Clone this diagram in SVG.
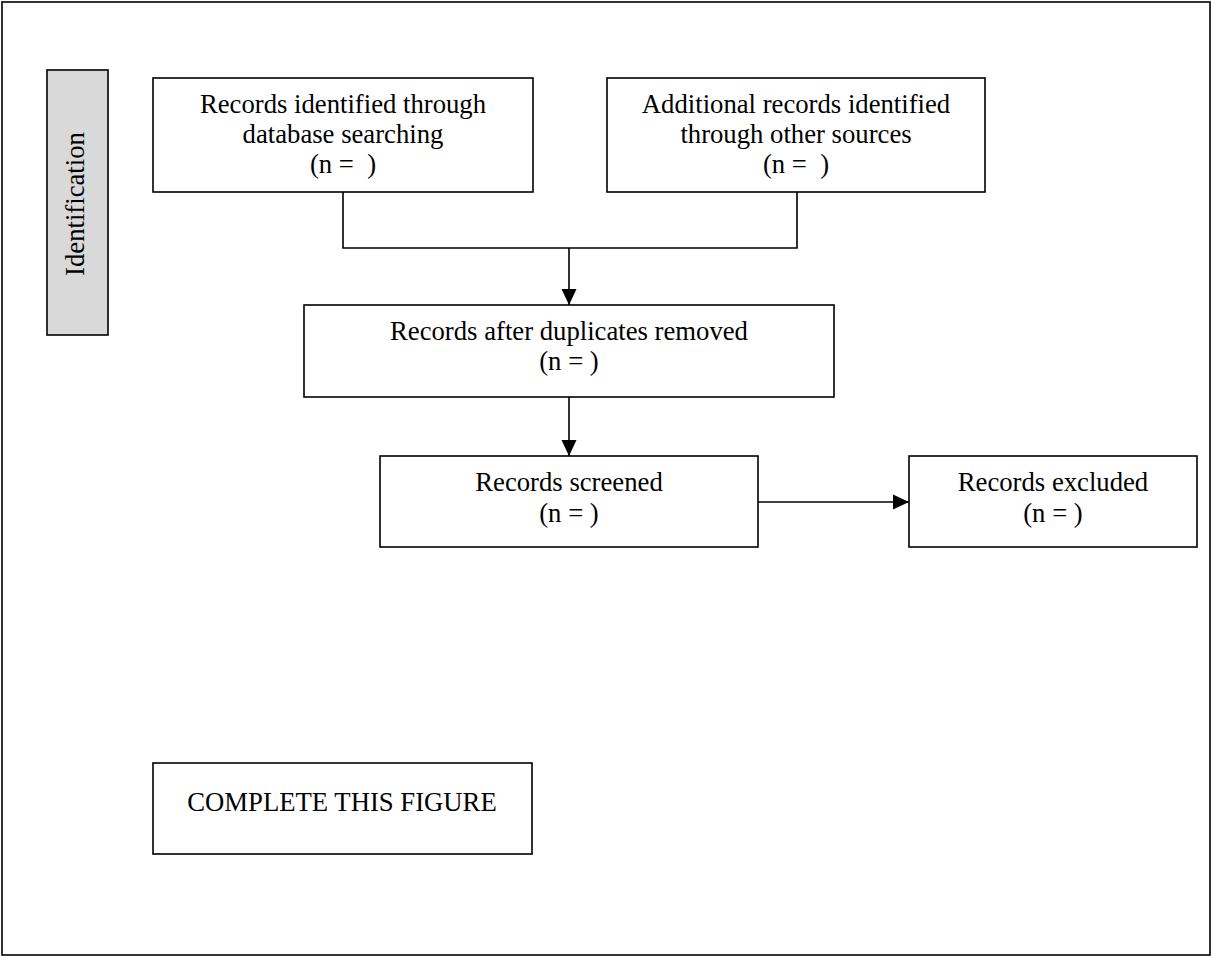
<svg xmlns="http://www.w3.org/2000/svg" width="1213" height="958" viewBox="0 0 1213 958">
<style>
.box{fill:#fff;stroke:#000;stroke-width:1.6}
.side{fill:#d9d9d9;stroke:#000;stroke-width:1.6}
.frame{fill:#fff;stroke:#000;stroke-width:1.6}
.t{font-family:"Liberation Serif","Times New Roman",serif;font-size:26.7px;fill:#000;text-anchor:middle}
.c{fill:none;stroke:#000;stroke-width:1.6}
</style>
<defs>
<marker id="arr" markerUnits="userSpaceOnUse" markerWidth="16" markerHeight="16" viewBox="0 0 16 16" refX="16" refY="8" orient="auto">
<path d="M0,0.5 L16,8 L0,15.5 Z" fill="#000"/>
</marker>
</defs>
<rect class="frame" x="2" y="2" width="1208" height="953"/>
<g id="identification">
<rect class="side" x="47" y="70" width="61" height="265"/>
<text class="t" x="84" y="204" transform="rotate(-90 84 204)">Identification</text>
</g>
<g id="db">
<rect class="box" x="153" y="78" width="380" height="114"/>
<text class="t" x="343" y="112.5">Records identified through</text>
<text class="t" x="343" y="142.5">database searching</text>
<text class="t" x="343" y="173">(n =&#160; )</text>
</g>
<g id="other">
<rect class="box" x="607" y="78" width="378" height="114"/>
<text class="t" x="796" y="112.5">Additional records identified</text>
<text class="t" x="796" y="142.5">through other sources</text>
<text class="t" x="796" y="173">(n =&#160; )</text>
</g>
<g id="dupes">
<rect class="box" x="304" y="305" width="530" height="92"/>
<text class="t" x="569" y="340">Records after duplicates removed</text>
<text class="t" x="569" y="370">(n = )</text>
</g>
<g id="screened">
<rect class="box" x="380" y="456" width="378" height="91"/>
<text class="t" x="569" y="491">Records screened</text>
<text class="t" x="569" y="522">(n = )</text>
</g>
<g id="excluded">
<rect class="box" x="909" y="456" width="288" height="91"/>
<text class="t" x="1053" y="491">Records excluded</text>
<text class="t" x="1053" y="522">(n = )</text>
</g>
<g id="complete">
<rect class="box" x="153" y="763" width="379" height="91"/>
<text class="t" x="342" y="811">COMPLETE THIS FIGURE</text>
</g>
<g id="connectors">
<path class="c" d="M343 192 V248 H797 V192"/>
<line class="c" x1="569" y1="248" x2="569" y2="305" marker-end="url(#arr)"/>
<line class="c" x1="569" y1="397" x2="569" y2="456" marker-end="url(#arr)"/>
<line class="c" x1="758" y1="502" x2="909" y2="502" marker-end="url(#arr)"/>
</g>
</svg>
